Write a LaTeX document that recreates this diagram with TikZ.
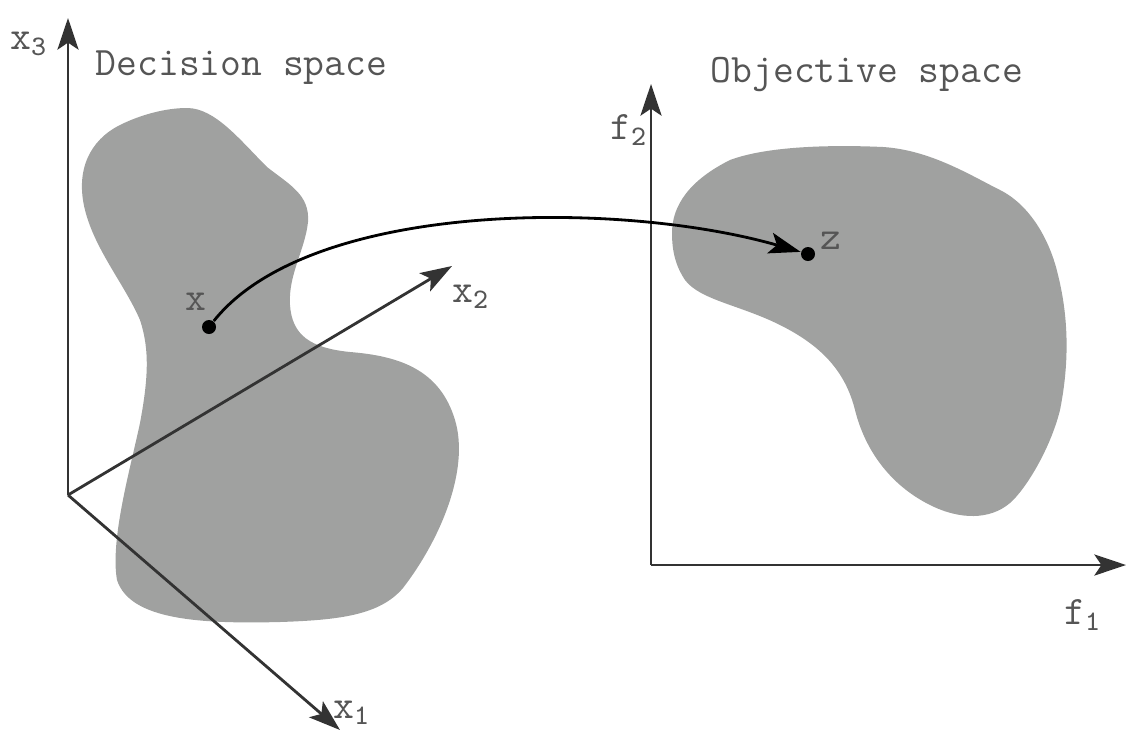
\documentclass[tikz,border=0pt]{standalone}
\usepackage{fontspec}
\usetikzlibrary{arrows.meta}
\definecolor{regiongray}{RGB}{160,161,160}
\definecolor{labelgray}{RGB}{85,85,85}
\tikzset{
  axis/.style={line width=0.8pt, black!80, -{Stealth[length=9pt,width=6pt,inset=2pt]}},
  lbl/.style={text=labelgray, font=\fontsize{11.5}{13}\selectfont\ttfamily, inner sep=0pt},
  dot/.style={circle, fill=black, inner sep=0pt, minimum size=0.14cm},
}
\begin{document}
\begin{tikzpicture}[x=0.01cm, y=-0.01cm]
    \useasboundingbox (0,0) rectangle (1128,742);

    % Decision space
    \fill[regiongray] (187,108) .. controls (215,108) and (240,140) .. (267,167)
        .. controls (290,185) and (310,195) .. (308,222)
        .. controls (305,250) and (288,275) .. (290,305)
        .. controls (292,335) and (310,348) .. (350,352)
        .. controls (400,356) and (440,370) .. (455,420)
        .. controls (470,470) and (440,540) .. (403,588)
        .. controls (380,615) and (340,620) .. (280,622)
        .. controls (200,624) and (130,620) .. (117,580)
        .. controls (110,540) and (130,470) .. (140,423)
        .. controls (148,380) and (150,350) .. (140,320)
        .. controls (125,285) and (95,250) .. (85,210)
        .. controls (75,170) and (90,140) .. (120,125)
        .. controls (140,115) and (165,108) .. (187,108) -- cycle;
    \coordinate (o) at (68,495);
    \coordinate (x3end) at (68,18);
    \coordinate (x2end) at (452,266);
    \coordinate (x1end) at (340,730);
    \draw[axis] (o) -- (x3end);
    \draw[axis] (o) -- (x2end);
    \draw[axis] (o) -- (x1end);
    \node[lbl] (x3lab) at (29,44) {x\textsubscript{3}};
    \node[lbl] (x2lab) at (471,297) {x\textsubscript{2}};
    \node[lbl] (x1lab) at (352,713) {x\textsubscript{1}};
    \node[lbl, anchor=west] (dlab) at (95,68) {Decision space};

    % Objective space
    \fill[regiongray] (672,233) .. controls (672,205) and (690,180) .. (730,160)
        .. controls (770,145) and (840,145) .. (883,147)
        .. controls (930,150) and (970,175) .. (1000,190)
        .. controls (1030,205) and (1050,240) .. (1058,275)
        .. controls (1068,315) and (1070,360) .. (1060,410)
        .. controls (1050,450) and (1025,490) .. (1010,503)
        .. controls (990,520) and (960,520) .. (930,505)
        .. controls (890,485) and (865,450) .. (855,410)
        .. controls (845,370) and (820,345) .. (780,325)
        .. controls (740,305) and (700,300) .. (685,280)
        .. controls (675,265) and (672,250) .. (672,233) -- cycle;
    \coordinate (fo) at (651,565);
    \coordinate (f2end) at (651,84);
    \coordinate (f1end) at (1126,565);
    \draw[axis] (fo) -- (f2end);
    \draw[axis] (fo) -- (f1end);
    \node[lbl] (f2lab) at (629,130) {f\textsubscript{2}};
    \node[lbl] (f1lab) at (1083,615) {f\textsubscript{1}};
    \node[lbl, anchor=west] (olab) at (710,75) {Objective space};

    % mapping x -> z
    \node[dot] (xp) at (209,327) {};
    \node[dot] (zp) at (808,254) {};
    \node[lbl] (xlab) at (196,302) {x};
    \node[lbl] (zlab) at (831,241) {z};
    \draw[line width=0.8pt, -{Stealth[length=9pt,width=6pt,inset=2pt]}]
        (xp) .. controls (310,200) and (620,200) .. (zp);
\end{tikzpicture}
\end{document}
